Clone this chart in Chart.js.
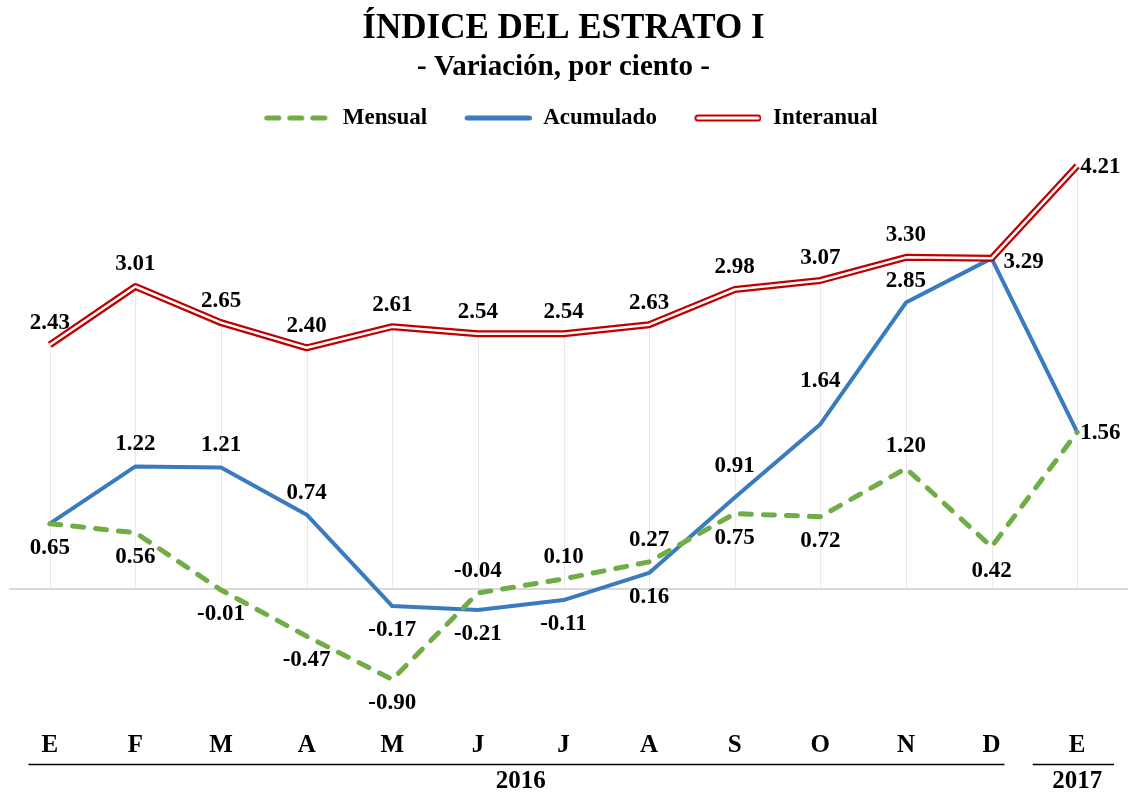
<!DOCTYPE html>
<html><head><meta charset="utf-8">
<script src="https://cdn.jsdelivr.net/npm/chart.js@4/dist/chart.umd.min.js"></script>
<style>html,body{margin:0;padding:0;background:#fff;overflow:hidden}#wrap{width:1130px;height:794px}</style>
</head><body><div id="wrap"><canvas id="c" width="1130" height="794"></canvas></div>
<script>
const months = ['E','F','M','A','M','J','J','A','S','O','N','D','E'];
const mensual = [0.65, 0.56, -0.01, -0.47, -0.90, -0.04, 0.10, 0.27, 0.75, 0.72, 1.20, 0.42, 1.56];
const acumulado = [0.65, 1.22, 1.21, 0.74, -0.17, -0.21, -0.11, 0.16, 0.91, 1.64, 2.85, 3.29, 1.56];
const interanual = [2.43, 3.01, 2.65, 2.40, 2.61, 2.54, 2.54, 2.63, 2.98, 3.07, 3.30, 3.29, 4.21];
const years = ['2016', '2017'];
const yearStart = [0, 12];
const yearEnd = [11, 12];

// label placement (style): a = above, m = higher above, A = far above, b = below, r = right, R = further right, '' = none
const posMensual = ['b','b','b','b','b','a','a','a','b','b','a','b','r'];
const posAcumulado = ['','a','a','a','b','b','b','b','m','A','a','R',''];
const posInteranual = ['a','a','a','a','a','a','a','a','a','a','a','','r'];

const FONT = "'Liberation Serif', 'Times New Roman', serif";
const GREEN = '#70ad47', BLUE = '#3a7bbf', RED = '#c00000';

function legendImg(kind) {
  const c = document.createElement('canvas');
  c.width = 82; c.height = 12;
  const g = c.getContext('2d');
  g.lineCap = 'round';
  if (kind === 'g') {
    g.strokeStyle = GREEN; g.lineWidth = 5; g.setLineDash([12, 11]);
    g.beginPath(); g.moveTo(17.5, 6); g.lineTo(80, 6); g.stroke();
  } else if (kind === 'b') {
    g.strokeStyle = BLUE; g.lineWidth = 5;
    g.beginPath(); g.moveTo(17.5, 6); g.lineTo(79.5, 6); g.stroke();
  } else {
    g.strokeStyle = RED; g.lineWidth = 7;
    g.beginPath(); g.moveTo(18.5, 6); g.lineTo(78.5, 6); g.stroke();
    g.strokeStyle = '#fff'; g.lineWidth = 3;
    g.beginPath(); g.moveTo(18.5, 6); g.lineTo(78.5, 6); g.stroke();
  }
  return c;
}
const legendImgs = {1: legendImg('r'), 2: legendImg('g'), 3: legendImg('b')};
const legendRank = {2: 0, 3: 1, 1: 2};

const dropLines = {
  id: 'dropLines',
  beforeDatasetsDraw(chart) {
    const ctx = chart.ctx, xs = chart.scales.x, ys = chart.scales.y, a = chart.chartArea;
    const y0 = ys.getPixelForValue(0);
    ctx.save();
    ctx.strokeStyle = '#e9e9e9'; ctx.lineWidth = 1;
    months.forEach((m, i) => {
      const top = Math.max(mensual[i], acumulado[i], interanual[i]);
      const x = Math.round(xs.getPixelForValue(i)) + 0.5;
      ctx.beginPath(); ctx.moveTo(x, ys.getPixelForValue(top)); ctx.lineTo(x, y0); ctx.stroke();
    });
    ctx.strokeStyle = '#d9d9d9'; ctx.lineWidth = 2;
    ctx.beginPath(); ctx.moveTo(a.left + 2, y0); ctx.lineTo(a.right + 8, y0); ctx.stroke();
    ctx.restore();
  }
};

const dataLabels = {
  id: 'dataLabels',
  afterDatasetsDraw(chart) {
    const ctx = chart.ctx;
    ctx.save();
    ctx.font = 'bold 23px ' + FONT;
    ctx.fillStyle = '#000';
    ctx.textBaseline = 'middle';
    chart.data.datasets.forEach((ds, di) => {
      if (!ds.labelPos) return;
      const meta = chart.getDatasetMeta(di);
      meta.data.forEach((pt, i) => {
        const p = ds.labelPos[i];
        if (!p) return;
        const txt = ds.data[i].toFixed(2);
        let x = pt.x, y = pt.y;
        ctx.textAlign = 'center';
        if (p === 'a') y -= 22;
        else if (p === 'm') y -= 31;
        else if (p === 'A') y -= 43;
        else if (p === 'b') y += 24;
        else if (p === 'r') { ctx.textAlign = 'left'; x += 3; y += 1; }
        else if (p === 'R') { ctx.textAlign = 'left'; x += 12; y += 4; }
        ctx.fillText(txt, x, y);
      });
    });
    ctx.restore();
  }
};

const yearRow = {
  id: 'yearRow',
  afterDraw(chart) {
    const ctx = chart.ctx, xs = chart.scales.x;
    const step = xs.getPixelForValue(1) - xs.getPixelForValue(0);
    const padL = [0.25, 0.52], padR = [0.15, 0.43];
    ctx.save();
    ctx.strokeStyle = '#000'; ctx.lineWidth = 1.5;
    ctx.fillStyle = '#000';
    ctx.font = 'bold 25px ' + FONT;
    ctx.textAlign = 'center'; ctx.textBaseline = 'middle';
    years.forEach((yr, k) => {
      const x1 = xs.getPixelForValue(yearStart[k]), x2 = xs.getPixelForValue(yearEnd[k]);
      ctx.beginPath(); ctx.moveTo(x1 - padL[k] * step, 764.5); ctx.lineTo(x2 + padR[k] * step, 764.5); ctx.stroke();
      ctx.fillText(yr, (x1 + x2) / 2, 782);
    });
    ctx.restore();
  }
};

const legendSpace = {
  id: 'legendSpace',
  beforeLayout(chart) {
    const lg = chart.legend;
    if (lg && !lg._patched) {
      const fit = lg.fit;
      lg.fit = function () { fit.call(this); this.height += 7.3; };
      lg._patched = true;
    }
  }
};

new Chart(document.getElementById('c'), {
  type: 'line',
  data: {
    labels: months,
    datasets: [
      { label: '', data: interanual, borderColor: '#ffffff', borderWidth: 2.5, pointRadius: 0, tension: 0, fill: false, borderJoinStyle: 'round' },
      { label: 'Interanual', data: interanual, borderColor: RED, borderWidth: 7, pointRadius: 0, tension: 0, fill: false, borderJoinStyle: 'round', labelPos: posInteranual },
      { label: 'Mensual', data: mensual, borderColor: GREEN, borderWidth: 5, borderDash: [11, 12], borderCapStyle: 'round', pointRadius: 0, tension: 0, fill: false, labelPos: posMensual },
      { label: 'Acumulado', data: acumulado, borderColor: BLUE, borderWidth: 4, pointRadius: 0, tension: 0, fill: false, borderJoinStyle: 'round', labelPos: posAcumulado }
    ]
  },
  options: {
    responsive: false,
    devicePixelRatio: 1,
    animation: false,
    layout: { padding: { left: 7, right: 10, top: 0, bottom: 12.4 } },
    plugins: {
      title: { display: true, text: 'ÍNDICE DEL ESTRATO I', color: '#000', font: { family: FONT, size: 35, weight: 'bold', lineHeight: 1.2 }, padding: { top: 8.4, bottom: 0 } },
      subtitle: { display: true, text: '- Variación, por ciento -', color: '#000', font: { family: FONT, size: 29, weight: 'bold', lineHeight: 1.1 }, padding: { top: 1.65, bottom: 0 } },
      legend: {
        display: true, position: 'top',
        labels: {
          usePointStyle: true, pointStyleWidth: 82, boxHeight: 23, padding: 22.55, color: '#000',
          font: { family: FONT, size: 23, weight: 'bold' },
          filter: (item) => item.text !== '',
          sort: (a, b) => legendRank[a.datasetIndex] - legendRank[b.datasetIndex],
          generateLabels(chart) {
            const items = Chart.defaults.plugins.legend.labels.generateLabels(chart);
            items.forEach(it => { it.pointStyle = legendImgs[it.datasetIndex] || 'line'; });
            return items;
          }
        }
      },
      tooltip: { enabled: false }
    },
    scales: {
      x: {
        offset: true,
        grid: { display: false, drawTicks: false },
        border: { display: false },
        ticks: { color: '#000', font: { family: FONT, size: 25, weight: 'bold' }, padding: 21, maxRotation: 0, autoSkip: false }
      },
      y: {
        display: false,
        min: -1.2, max: 4.4
      }
    }
  },
  plugins: [legendSpace, dropLines, dataLabels, yearRow]
});
</script>
</body></html>
